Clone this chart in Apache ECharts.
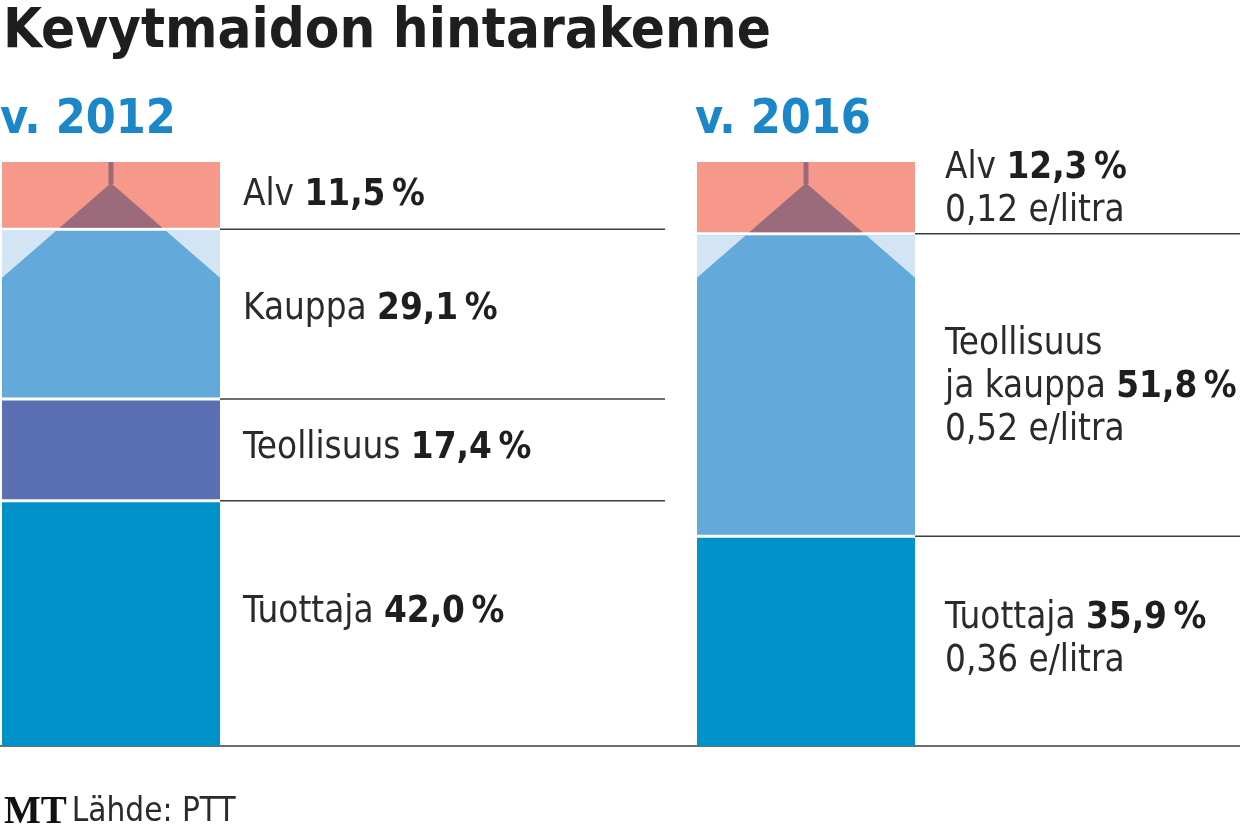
<!DOCTYPE html>
<html><head><meta charset="utf-8">
<script src="https://cdn.jsdelivr.net/npm/echarts@6/dist/echarts.min.js"></script>
<style>html,body{margin:0;padding:0;background:#fff}#c{width:1240px;height:835px}</style>
</head><body><div id="c"></div>
<script>
// ---- data ----
const chartTitle = 'Kevytmaidon hintarakenne';
const sourceText = 'Lähde: PTT';
const years = ['v. 2012', 'v. 2016'];
const names2012 = ['Tuottaja', 'Teollisuus', 'Kauppa', 'Alv'];
const shares2012 = [42.0, 17.4, 29.1, 11.5];
const names2016 = ['Tuottaja', 'Teollisuus\nja kauppa', 'Alv'];
const shares2016 = [35.9, 51.8, 12.3];
const litres2016 = [0.36, 0.52, 0.12];

// ---- styles ----
const FONT = '"DejaVu Sans Condensed", "Liberation Sans Narrow", sans-serif';
const colors = {
  'Tuottaja': '#0092c9',
  'Teollisuus': '#5a70b3',
  'Kauppa': '#63aadb',
  'Teollisuus\nja kauppa': '#63aadb',
  'Alv': '#f6988a'
};
const roofColor = '#9c6b7b';
const cornerColor = '#d3e4f4';
const lineColor = '#3c3c3c';
const BAR_W = 218, GAP = 3;
const labelGap = [23, 30];
const lineEnd = [665, 1240];
const labelNudge = [[-11, -1, -5, 0], [-1, 2, -8]];

const chart = echarts.init(document.getElementById('c'));

function pct(v) { return v.toFixed(1).replace('.', ',') + '\u2009%'; }
function litre(v) { return v.toFixed(2).replace('.', ',') + ' e/litra'; }

function renderCarton(params, api) {
  const yi = api.value(0);
  const names = yi === 0 ? names2012 : names2016;
  const shares = yi === 0 ? shares2012 : shares2016;
  const litres = yi === 0 ? null : litres2016;
  const cx = api.coord([yi, 0])[0];
  const half = BAR_W / 2;
  const x0 = cx - half, x1 = cx + half;
  const children = [];
  const n = names.length;
  let cum = 0;
  const segs = [];
  for (let i = 0; i < n; i++) {
    const yb = api.coord([yi, cum])[1];
    cum += shares[i];
    const yt = api.coord([yi, cum])[1];
    segs.push({ yb, yt });
    const top = yt + (i === n - 1 ? 0 : GAP / 2);
    const bot = yb - (i === 0 ? 0 : GAP / 2);
    children.push({ type: 'rect', shape: { x: x0, y: top, width: BAR_W, height: bot - top },
      style: { fill: colors[names[i]] } });
    if (i === 0 && yi === 0) {
      children.push({ type: 'line', shape: { x1: 0, y1: yb, x2: chart.getWidth(), y2: yb },
        style: { stroke: lineColor, lineWidth: 1.5 }, z2: -1 });
    }
    if (i < n - 1) {
      children.push({ type: 'line', shape: { x1: x1, y1: yt, x2: lineEnd[yi], y2: yt },
        style: { stroke: lineColor, lineWidth: 1.5 } });
    }
    // label
    const parts = names[i].split('\n');
    let txt = '';
    for (let k = 0; k < parts.length - 1; k++) txt += '{n|' + parts[k] + '}\n';
    txt += '{n|' + parts[parts.length - 1] + ' }{b|' + pct(shares[i]) + '}';
    if (litres) txt += '\n{n|' + litre(litres[i]) + '}';
    children.push({ type: 'text', x: x1 + labelGap[yi], y: (yb + yt) / 2 + labelNudge[yi][i],
      style: { text: txt, verticalAlign: 'middle', align: 'left',
        rich: {
          n: { fontFamily: FONT, fontSize: 36.5, fontWeight: 'normal', fill: '#2a2a2a', lineHeight: 43 },
          b: { fontFamily: FONT, fontSize: 36.5, fontWeight: 'bold', fill: '#1e1e1e', lineHeight: 43 }
        } } });
  }
  // carton roof
  const topSeg = segs[n - 1], sub = segs[n - 2];
  const apexY = topSeg.yt + 21;
  const s = 1.15;
  const alvBot = topSeg.yb - GAP / 2;
  const hw = (alvBot - apexY) * s;
  children.push({ type: 'polygon', shape: { points: [[cx, apexY], [cx - hw, alvBot], [cx + hw, alvBot]] },
    style: { fill: roofColor } });
  children.push({ type: 'rect', shape: { x: cx - 2.5, y: topSeg.yt, width: 5, height: 22 },
    style: { fill: roofColor } });
  const subTop = sub.yt + GAP / 2;
  const hw2 = (subTop - apexY) * s;
  const edgeY = apexY + half / s;
  children.push({ type: 'polygon', shape: { points: [[x0, subTop], [cx - hw2, subTop], [x0, edgeY]] },
    style: { fill: cornerColor } });
  children.push({ type: 'polygon', shape: { points: [[x1, subTop], [cx + hw2, subTop], [x1, edgeY]] },
    style: { fill: cornerColor } });
  // year label
  children.push({ type: 'text', x: x0 - 2, y: topSeg.yt - 17,
    style: { text: years[yi], fontFamily: FONT, fontSize: 48, fontWeight: 'bold', fill: '#1b87c9',
      verticalAlign: 'bottom', align: 'left' } });
  return { type: 'group', children };
}

chart.setOption({
  animation: false,
  backgroundColor: '#ffffff',
  title: [
    { text: chartTitle, left: -2, top: -1,
      textStyle: { fontFamily: FONT, fontSize: 56, fontWeight: 'bold', color: '#1e1e1e' } },
    { text: '{mt|MT} {s|' + sourceText + '}', left: -1, top: 788,
      textStyle: { rich: {
        mt: { fontFamily: '"Liberation Serif", serif', fontSize: 39, fontWeight: 'bold', color: '#111' },
        s: { fontFamily: FONT, fontSize: 33, fontWeight: 'normal', color: '#2a2a2a' } } } }
  ],
  grid: { left: 111, right: 434, top: 162, bottom: 89 },
  xAxis: { type: 'category', data: years, boundaryGap: false, show: false },
  yAxis: { type: 'value', min: 0, max: 100, show: false },
  series: [{ type: 'custom', renderItem: renderCarton, data: [[0], [1]], clip: false }]
});
</script></body></html>
